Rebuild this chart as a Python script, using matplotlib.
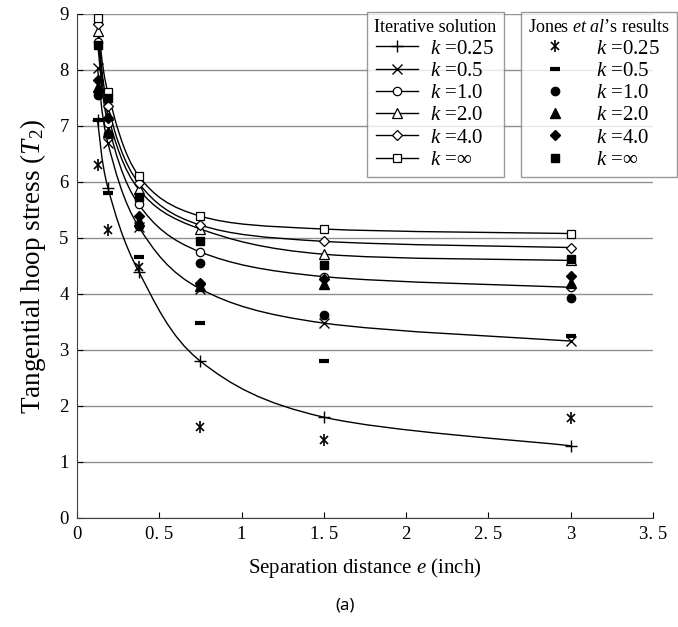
import matplotlib
matplotlib.use("Agg")
import matplotlib.pyplot as plt
import numpy as np
from matplotlib.path import Path
from matplotlib.patches import PathPatch
from matplotlib.lines import Line2D

plt.rcParams['font.family'] = ['Liberation Serif', 'DejaVu Serif']
plt.rcParams['mathtext.fontset'] = 'custom'
plt.rcParams['mathtext.rm'] = 'Liberation Serif'
plt.rcParams['mathtext.it'] = 'Liberation Serif:italic'

# ---- data ----
x_sep = [0.125, 0.1875, 0.375, 0.75, 1.5, 3.0]
k_labels = ["0.25", "0.5", "1.0", "2.0", "4.0", "∞"]

iter_k025 = [7.10, 5.90, 4.40, 2.80, 1.80, 1.29]
iter_k05 = [8.03, 6.70, 5.20, 4.09, 3.48, 3.16]
iter_k1 = [8.50, 7.05, 5.60, 4.75, 4.31, 4.12]
iter_k2 = [8.70, 7.20, 5.87, 5.16, 4.71, 4.60]
iter_k4 = [8.82, 7.35, 5.98, 5.23, 4.94, 4.83]
iter_kinf = [8.93, 7.60, 6.11, 5.39, 5.16, 5.08]

jones_k025 = [6.30, 5.15, 4.48, 1.63, 1.39, 1.79]
jones_k05 = [7.10, 5.80, 4.66, 3.48, 2.80, 3.25]
jones_k1 = [7.55, 6.85, 5.22, 4.55, 3.62, 3.92]
jones_k2 = [7.70, 6.90, 5.30, 4.15, 4.18, 4.20]
jones_k4 = [7.83, 7.15, 5.40, 4.20, 4.26, 4.32]
jones_kinf = [8.45, 7.50, 5.73, 4.94, 4.52, 4.62]

iter_series = [iter_k025, iter_k05, iter_k1, iter_k2, iter_k4, iter_kinf]
jones_series = [jones_k025, jones_k05, jones_k1, jones_k2, jones_k4, jones_kinf]

x_ticks = [0, 0.5, 1, 1.5, 2, 2.5, 3, 3.5]
x_ticklabels = ["0", "0. 5", "1", "1. 5", "2", "2. 5", "3", "3. 5"]
y_ticks = list(range(0, 10))

# ---- styles ----
iter_markers = [dict(marker='+', ms=8, mew=1.0, mfc='none'),
                dict(marker='x', ms=7, mew=1.0, mfc='none'),
                dict(marker='o', ms=6, mew=0.9, mfc='white'),
                dict(marker='^', ms=6.5, mew=0.9, mfc='white'),
                dict(marker='D', ms=5, mew=0.9, mfc='white'),
                dict(marker='s', ms=6, mew=0.9, mfc='white')]
# k=0.25 Jones marker: an "x" with a vertical bar through it
jones_markers = [[dict(marker='x', ms=6, mew=1.2), dict(marker='|', ms=8, mew=1.2)],
                 [dict(marker='_', ms=7, mew=3)],
                 [dict(marker='o', ms=6)],
                 [dict(marker='^', ms=6.5)],
                 [dict(marker='D', ms=5)],
                 [dict(marker='s', ms=6)]]

fig = plt.figure(figsize=(6.78, 6.27), dpi=100)
ax = fig.add_axes([77/678, 1-518/627, (653-77)/678, (518-14)/627])


def smooth_path(xs, ys):
    pts = np.column_stack([xs, ys])
    n = len(pts)
    verts = [pts[0]]
    codes = [Path.MOVETO]
    for i in range(n - 1):
        p0 = pts[i - 1] if i > 0 else pts[i]
        p1 = pts[i]
        p2 = pts[i + 1]
        p3 = pts[i + 2] if i + 2 < n else pts[i + 1]
        c1 = p1 + (p2 - p0) / 6.0
        c2 = p2 - (p3 - p1) / 6.0
        verts += [c1, c2, p2]
        codes += [Path.CURVE4] * 3
    return Path(verts, codes)


for ys, mk in zip(iter_series, iter_markers):
    ax.add_patch(PathPatch(smooth_path(x_sep, ys), fill=False, lw=1.0,
                           edgecolor='black', zorder=2))
    ax.plot(x_sep, ys, ls='none', color='black', mec='black', zorder=3, **mk)

for ys, mks in zip(jones_series, jones_markers):
    for mk in mks:
        ax.plot(x_sep, ys, ls='none', color='black', mec='black',
                mfc='black', zorder=4, **mk)

ax.set_xlim(0, 3.5)
ax.set_ylim(0, 9)
ax.set_xticks(x_ticks)
ax.set_xticklabels(x_ticklabels)
ax.set_yticks(y_ticks)
ax.tick_params(axis='both', labelsize=13.5, direction='in', length=4,
               width=0.8, pad=6)
ax.yaxis.grid(True, color='#909090', lw=1.0)
ax.set_axisbelow(True)
for s in ['top', 'right']:
    ax.spines[s].set_visible(False)
for s in ['left', 'bottom']:
    ax.spines[s].set_color('#404040')

ax.set_xlabel("Separation distance $e$ (inch)", fontsize=15, labelpad=9)
ax.set_ylabel("Tangential hoop stress ($T$$_{2}$)", fontsize=19.5, labelpad=8)
fig.text(345/678, 1-605/627, "(a)", fontsize=12, ha='center', va='center',
         family=['Noto Sans', 'DejaVu Sans'])

# ---- legends ----
h1 = [Line2D([], [], color='black', lw=1.0, mec='black', **mk)
      for mk in iter_markers]
h2 = []
for mks in jones_markers:
    hs = tuple(Line2D([], [], ls='none', color='black', mec='black',
                      mfc='black', **mk) for mk in mks)
    h2.append(hs if len(hs) > 1 else hs[0])
labels = ["$k$ =" + k for k in k_labels]

common = dict(loc='upper left', fontsize=15, title_fontsize=13, frameon=True,
              fancybox=False, edgecolor='#808080', borderaxespad=0,
              labelspacing=0.13, borderpad=0.35)
leg1 = fig.legend(h1, labels, title="Iterative solution",
                  bbox_to_anchor=(367/678, 1-12/627), handlelength=2.0,
                  handletextpad=0.6, **common)
leg1.get_frame().set_linewidth(1.0)
leg2 = fig.legend(h2, labels, title="Jones $et$ $al$’s results",
                  bbox_to_anchor=(521/678, 1-12/627), handlelength=1.6,
                  handletextpad=1.2, **common)
leg2.get_frame().set_linewidth(1.0)

fig.savefig("out.png", dpi=100)
